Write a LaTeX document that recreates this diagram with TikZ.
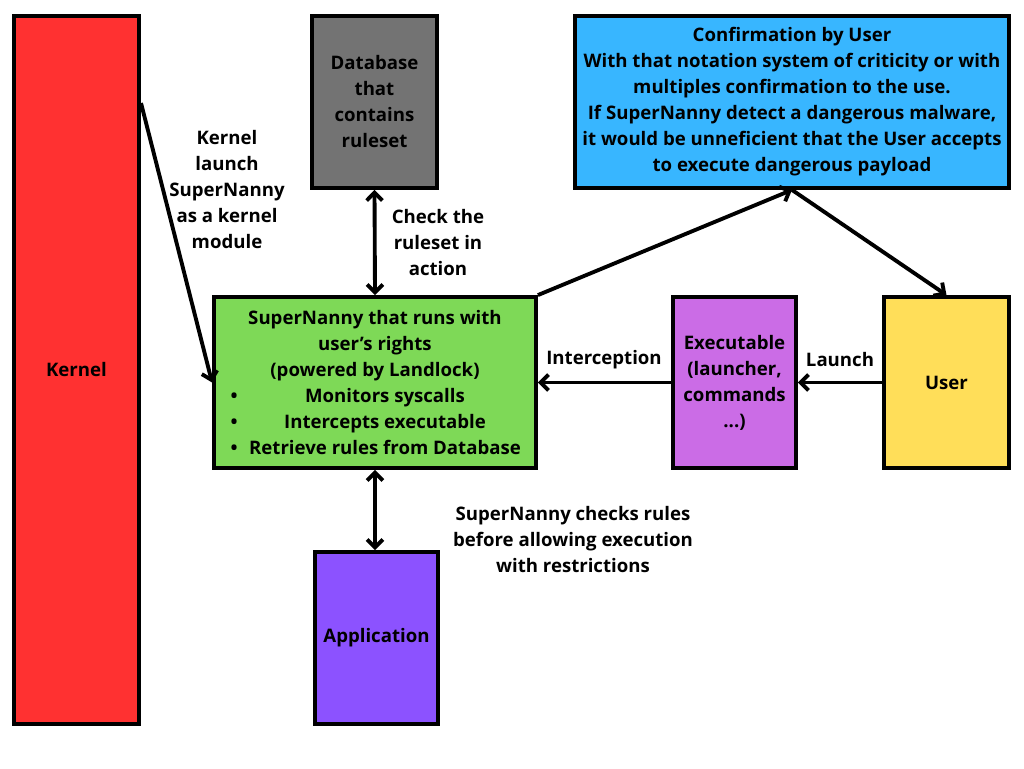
\documentclass[tikz,border=0pt]{standalone}
\usepackage{fontspec}
\setmainfont{Open Sans}
\usepackage{xcolor}
\usetikzlibrary{arrows.meta}
\definecolor{kernred}{HTML}{FF3131}
\definecolor{dbgray}{HTML}{737373}
\definecolor{confblue}{HTML}{38B6FF}
\definecolor{snygreen}{HTML}{7ED957}
\definecolor{exeviolet}{HTML}{CB6CE6}
\definecolor{useryellow}{HTML}{FFDE59}
\definecolor{apppurple}{HTML}{8C52FF}
\newcommand{\bitem}[1]{\makebox[6.3cm][l]{\hspace{0.26cm}\textbullet\hfill#1\hfill}}

\begin{document}
\begin{tikzpicture}[x=0.02cm,y=-0.02cm,
  box/.style={draw=black,line width=2.2pt,align=center,inner sep=0pt,
    font=\bfseries\fontsize{10.6}{14.8}\selectfont},
  lbl/.style={align=center,font=\bfseries\fontsize{10.6}{14.8}\selectfont},
  arr/.style={-{Straight Barb[length=4.5pt,width=9pt]},line width=2.2pt},
  dbl/.style={{Straight Barb[length=4.5pt,width=9pt]}-{Straight Barb[length=4.5pt,width=9pt]},line width=2.2pt}]
\useasboundingbox[fill=white] (0,0) rectangle (1024,768);
\node[box,fill=kernred,minimum width=2.5cm,minimum height=14.16cm] (kernel) at (76.5,370){Kernel};
\node[box,fill=dbgray,minimum width=2.5cm,minimum height=3.44cm] (db) at (374.5,102){Database\\that\\contains\\ruleset};
\node[box,fill=confblue,minimum width=8.68cm,minimum height=3.44cm] (conf) at (792,102){Confirmation by User\\With that notation system of criticity or with\\multiples confirmation to the use.\\If SuperNanny detect a dangerous malware,\\it would be unneficient that the User accepts\\to execute dangerous payload};
\node[box,fill=snygreen,minimum width=6.44cm,minimum height=3.42cm] (sny) at (375,382.5){SuperNanny that runs with\\user’s rights\\(powered by Landlock)\\\bitem{Monitors syscalls}\\\bitem{Intercepts executable}\\\bitem{Retrieve rules from Database}};
\node[box,fill=exeviolet,minimum width=2.46cm,minimum height=3.42cm] (exe) at (734.5,382.5){Executable\\(launcher,\\commands\\...)};
\node[box,fill=useryellow,minimum width=2.5cm,minimum height=3.42cm] (user) at (946.5,382.5){User};
\node[box,fill=apppurple,minimum width=2.46cm,minimum height=3.44cm] (app) at (376.5,638){Application};
\coordinate (kout) at (141,103);
\draw[arr] (kout) -- (sny.west);
\draw[dbl] (db.south) -- (sny.north);
\draw[dbl] (sny.south) -- (sny.south |- app.north);
\draw[arr] (user.west) -- (exe.east);
\draw[arr] (exe.west) -- (sny.east);
\draw[arr] (sny.north east) -- (conf.south);
\draw[arr] (conf.south) -- (user.north);
\node[lbl] (klbl) at (227,190){Kernel\\launch\\SuperNanny\\as a kernel\\module};
\node[lbl] (chklbl) at (438,243){Check the\\ruleset in\\action};
\node[lbl] (intlbl) at (604,360){Interception};
\node[lbl] (laulbl) at (840,360){Launch};
\node[lbl] (rulelbl) at (573,540){SuperNanny checks rules\\before allowing execution\\with restrictions};
\end{tikzpicture}
\end{document}
